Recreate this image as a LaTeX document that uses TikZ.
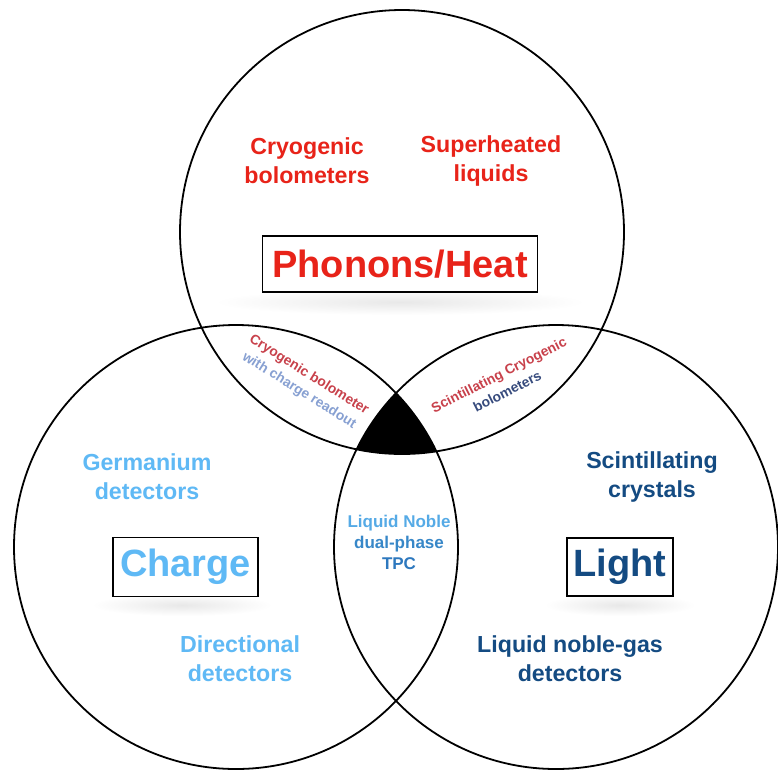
\documentclass[tikz,border=0pt]{standalone}
\usepackage{fontspec}
\setmainfont{Liberation Sans}
\definecolor{heatred}{RGB}{232,35,25}
\definecolor{cbred}{RGB}{200,65,75}
\definecolor{cbblue}{RGB}{135,160,210}
\definecolor{chargeblue}{RGB}{95,185,245}
\definecolor{darkblue}{RGB}{20,75,130}
\definecolor{scbblue}{RGB}{55,75,125}
\definecolor{tpcone}{RGB}{85,170,230}
\definecolor{tpctwo}{RGB}{55,135,200}
\definecolor{tpcthree}{RGB}{45,120,190}
\tikzset{
  ring/.style={draw=black, line width=1.8pt},
  labelbox/.style={draw=black, line width=1.7pt, fill=white, inner sep=0pt, font=\bfseries\fontsize{38}{40}\selectfont},
  bigtext/.style={align=center, font=\bfseries\fontsize{23.2}{29}\selectfont},
  lenstext/.style={align=center, font=\bfseries\fontsize{17}{21}\selectfont},
  smalltext/.style={align=center, font=\bfseries\fontsize{13.8}{18.5}\selectfont},
  blur/.style={inner color=black!9, outer color=white}
}
\begin{document}
\begin{tikzpicture}[x=1pt,y=-1pt]
\useasboundingbox (0,0) rectangle (778,769);
\clip (0,0) rectangle (778,769);
\fill[white] (0,0) rectangle (778,769);
% soft shadows
\shade[blur] (400,302) ellipse [x radius=185, y radius=13];
\shade[blur] (182,605) ellipse [x radius=90, y radius=11];
\shade[blur] (620,605) ellipse [x radius=75, y radius=11];
% centre region common to all three
\begin{scope}
  \clip (402,232) circle [radius=222];
  \clip (236,547) circle [radius=222];
  \fill[black] (556,547) circle [radius=222];
\end{scope}
% circles
\draw[ring] (402,232) circle [radius=222];
\draw[ring] (236,547) circle [radius=222];
\draw[ring] (556,547) circle [radius=222];
% boxes
\node[labelbox, text=heatred, minimum width=275pt, minimum height=56pt] (heat) at (400,264) {Phonons/Heat};
\node[labelbox, text=chargeblue, minimum width=145pt, minimum height=59pt] (charge) at (185.5,567) {Charge};
\node[labelbox, text=darkblue, minimum width=106pt, minimum height=58pt] (light) at (620,567) {Light};
% texts
\node[bigtext, text=heatred] (cryo) at (307,161) {Cryogenic\\bolometers};
\node[bigtext, text=heatred] (superh) at (491,161) {Superheated\\liquids};
\node[bigtext, text=chargeblue] (germ) at (147,477) {Germanium\\detectors};
\node[bigtext, text=chargeblue] (direc) at (240,659) {Directional\\detectors};
\node[bigtext, text=darkblue] (scint) at (652,477) {Scintillating\\crystals};
\node[bigtext, text=darkblue] (lng) at (570,659) {Liquid noble-gas\\detectors};
\node[lenstext] (tpc) at (399,542) {\textcolor{tpcone}{Liquid Noble}\\\textcolor{tpctwo}{dual-phase}\\\textcolor{tpcthree}{TPC}};
\node[smalltext, rotate=-32] (cbcr) at (304,383) {\textcolor{cbred}{Cryogenic bolometer}\\\textcolor{cbblue}{with charge readout}};
\node[smalltext, rotate=27] (scb) at (503,383) {\textcolor{cbred}{Scintillating Cryogenic}\\\textcolor{scbblue}{bolometers}};
\end{tikzpicture}
\end{document}
